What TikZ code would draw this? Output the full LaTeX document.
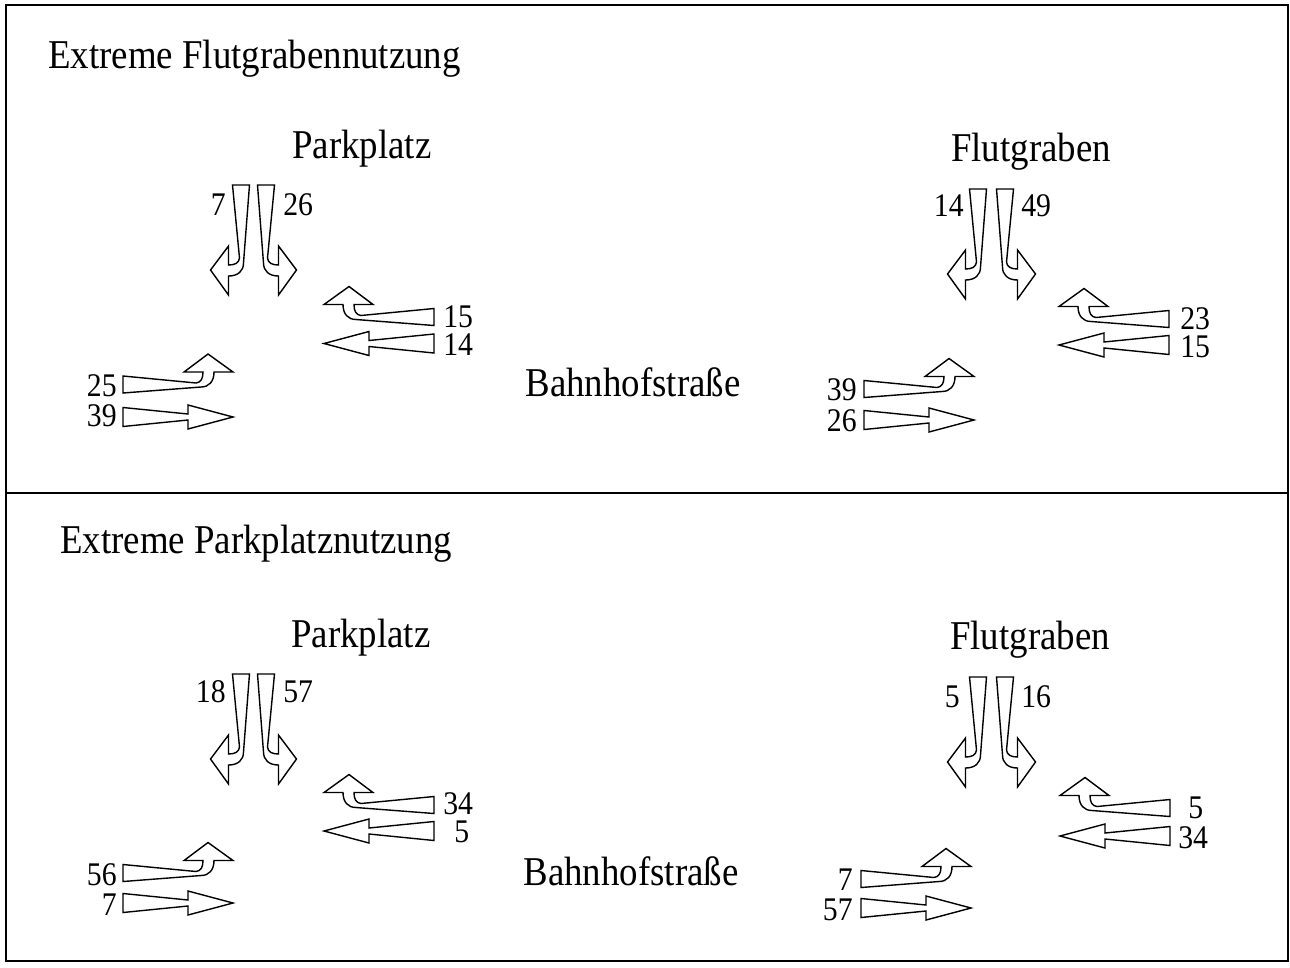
\documentclass[tikz,border=0pt]{standalone}
\usepackage{fontspec}
\setmainfont[FakeStretch=0.9]{Liberation Serif}
\usepackage{tikz}
\usetikzlibrary{positioning}

\tikzset{
  lane/.style={draw, line width=0.8pt, fill=white, line join=miter},
  turnlane/.pic={
    \path[lane] (0,-8.5) -- (73,-1.5) .. controls (78,-2) and (80,-6) .. (80,-12.5)
      -- (61,-12.5) -- (85,-30.5) -- (110,-12.5) -- (91,-12.5)
      .. controls (91,-3) and (86,2.5) .. (78,2.5) -- (0,8.5) -- cycle;
  },
  straightlane/.pic={
    \path[lane] (0,-9.5) -- (65,-3) -- (65,-12) -- (110,0) -- (65,12) -- (65,3)
      -- (0,9.5) -- cycle;
  }
}

\begin{document}
\begin{tikzpicture}[x=0.02cm, y=-0.02cm,
    streetname/.style={inner sep=0pt, font=\fontsize{23.3}{26}\selectfont},
    count/.style={inner sep=0pt, font=\fontsize{18.8}{21}\selectfont}]
  \useasboundingbox (0,0) rectangle (1290,967);

  % Frame
  \draw[line width=1.1pt] (6,5) rectangle (1288,961);
  \draw[line width=1.1pt] (6,493) -- (1288,493);

  % ---- Upper panel ----
  \node[streetname, anchor=base west] (titleA) at (48,68) {Extreme Flutgrabennutzung};
  \node[streetname, anchor=base] (parkA) at (362,158) {Parkplatz};
  \node[streetname, anchor=base] (flutA) at (1031,161) {Flutgraben};
  \node[streetname, anchor=base] (bahnA) at (633,396) {Bahnhofstraße};

  % Parkplatz junction
  \pic[rotate=-90, yscale=-1] at (241,185) {turnlane};
  \pic[rotate=-90] at (266,185) {turnlane};
  \pic[xscale=-1] at (434,317) {turnlane};
  \pic[xscale=-1] at (434,343.5) {straightlane};
  \pic at (123,384.5) {turnlane};
  \pic at (123,417) {straightlane};
  \node[count, anchor=east] (cA1) at (226,205) {7};
  \node[count, anchor=west] (cA2) at (283,205) {26};
  \node[count, anchor=west] (cA3) at (443,317) {15};
  \node[count, anchor=west] (cA4) at (443,345) {14};
  \node[count, anchor=east] (cA5) at (117,386) {25};
  \node[count, anchor=east] (cA6) at (117,416) {39};

  % Flutgraben junction
  \pic[rotate=-90, yscale=-1] at (978,189) {turnlane};
  \pic[rotate=-90] at (1005,189) {turnlane};
  \pic[xscale=-1] at (1169,319) {turnlane};
  \pic[xscale=-1] at (1169,345) {straightlane};
  \pic at (864,389) {turnlane};
  \pic at (864,420) {straightlane};
  \node[count, anchor=east] (cA7) at (964,206) {14};
  \node[count, anchor=west] (cA8) at (1021,206) {49};
  \node[count, anchor=west] (cA9) at (1180,319) {23};
  \node[count, anchor=west] (cA10) at (1180,347) {15};
  \node[count, anchor=east] (cA11) at (857,390) {39};
  \node[count, anchor=east] (cA12) at (857,421) {26};

  % ---- Lower panel ----
  \node[streetname, anchor=base west] (titleB) at (60,553) {Extreme Parkplatznutzung};
  \node[streetname, anchor=base] (parkB) at (361,647) {Parkplatz};
  \node[streetname, anchor=base] (flutB) at (1030,649) {Flutgraben};
  \node[streetname, anchor=base] (bahnB) at (631,885) {Bahnhofstraße};

  % Parkplatz junction
  \pic[rotate=-90, yscale=-1] at (241,674) {turnlane};
  \pic[rotate=-90] at (266,674) {turnlane};
  \pic[xscale=-1] at (434,805) {turnlane};
  \pic[xscale=-1] at (434,831) {straightlane};
  \pic at (123,873) {turnlane};
  \pic at (123,903) {straightlane};
  \node[count, anchor=east] (cB1) at (226,692) {18};
  \node[count, anchor=west] (cB2) at (283,692) {57};
  \node[count, anchor=west] (cB3) at (443,804) {34};
  \node[count, anchor=west] (cB4) at (454,832) {5};
  \node[count, anchor=east] (cB5) at (117,875) {56};
  \node[count, anchor=east] (cB6) at (117,905) {7};

  % Flutgraben junction
  \pic[rotate=-90, yscale=-1] at (978,677) {turnlane};
  \pic[rotate=-90] at (1005,677) {turnlane};
  \pic[xscale=-1] at (1170,808) {turnlane};
  \pic[xscale=-1] at (1170,836) {straightlane};
  \pic at (861,879) {turnlane};
  \pic at (861,908) {straightlane};
  \node[count, anchor=east] (cB7) at (960,697) {5};
  \node[count, anchor=west] (cB8) at (1021,697) {16};
  \node[count, anchor=west] (cB9) at (1188,808) {5};
  \node[count, anchor=west] (cB10) at (1178,838) {34};
  \node[count, anchor=east] (cB11) at (853,880) {7};
  \node[count, anchor=east] (cB12) at (853,910) {57};
\end{tikzpicture}
\end{document}
